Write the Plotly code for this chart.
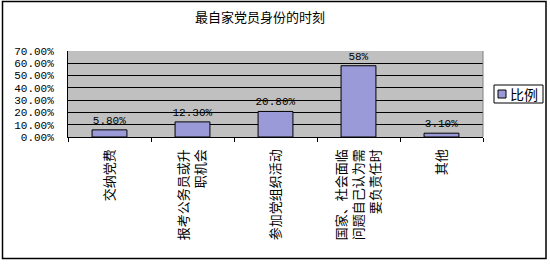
import plotly.graph_objects as go

categories = ["交纳党费", "报考公务员或升<br>职机会", "参加党组织活动", "国家、社会面临<br>问题自己认为需<br>要负责任时", "其他"]
values = [0.058, 0.123, 0.208, 0.58, 0.031]
value_labels = ["5.80%", "12.30%", "20.80%", "58%", "3.10%"]
series_name = "比例"
title_text = "最自家党员身份的时刻"
y_ticks = [0, 0.1, 0.2, 0.3, 0.4, 0.5, 0.6, 0.7]
y_tick_labels = ["0.00%", "10.00%", "20.00%", "30.00%", "40.00%", "50.00%", "60.00%", "70.00%"]

BAR_COLOR = "#9A9AD8"
W, H = 550, 265
L, R, T, B = 68, 483, 51, 137
pw, ph = R - L, B - T

def px(x):
    return (x - L) / pw

def py(y):
    return (B - y) / ph

fig = go.Figure()
fig.add_trace(go.Bar(
    x=categories, y=values, name=series_name,
    text=value_labels, textposition="outside", cliponaxis=False,
    constraintext="none",
    textfont=dict(family="Liberation Mono, monospace", size=11, color="black"),
    marker=dict(color=BAR_COLOR, line=dict(color="black", width=1)),
    showlegend=False,
))

shapes = [
    # outer border
    dict(type="rect", xref="paper", yref="paper",
         x0=px(2.5), x1=px(546), y0=py(258.5), y1=py(1.5),
         line=dict(color="black", width=1.5), layer="below"),
    # legend box
    dict(type="rect", xref="paper", yref="paper",
         x0=px(494), x1=px(543), y0=py(103), y1=py(85),
         line=dict(color="black", width=1), fillcolor="white"),
    # legend swatch
    dict(type="rect", xref="paper", yref="paper",
         x0=px(498), x1=px(506), y0=py(98), y1=py(90),
         line=dict(color="black", width=1), fillcolor=BAR_COLOR),
    # plot-area right edge
    dict(type="line", xref="paper", yref="paper", x0=1, x1=1, y0=0, y1=1,
         line=dict(color="#808080", width=1)),
]

fig.update_layout(
    width=W, height=H,
    margin=dict(l=L, r=W - R, t=T, b=H - B, pad=0, autoexpand=False),
    paper_bgcolor="white", plot_bgcolor="#C0C0C0",
    font=dict(family="Noto Sans CJK SC", size=12, color="black"),
    title=dict(text=title_text, x=260 / W, xanchor="center", y=1 - 17 / H, yanchor="middle",
               xref="container", yref="container",
               font=dict(family="Noto Sans CJK SC", size=13, color="black")),
    bargap=0.58,
    showlegend=False,
    shapes=shapes,
    annotations=[dict(text=series_name, xref="paper", yref="paper",
                      x=px(508), y=py(94), xanchor="left", yanchor="middle",
                      showarrow=False,
                      font=dict(family="Noto Sans CJK SC", size=14, color="black"))],
)

fig.update_xaxes(
    showline=True, linecolor="black", linewidth=1,
    ticks="outside", tickson="boundaries", ticklen=4, tickcolor="black",
    tickangle=-90, ticklabelstandoff=6,
    tickfont=dict(family="Noto Sans CJK SC", size=13, color="black"),
    showgrid=False,
)
fig.update_yaxes(
    range=[0, 0.7], tickvals=y_ticks, ticktext=y_tick_labels,
    showline=True, linecolor="black", linewidth=1,
    gridcolor="black", gridwidth=1, zeroline=False,
    ticks="", ticklabelstandoff=11,
    tickfont=dict(family="Liberation Mono, monospace", size=11, color="black"),
)

fig.write_html("out.html")
